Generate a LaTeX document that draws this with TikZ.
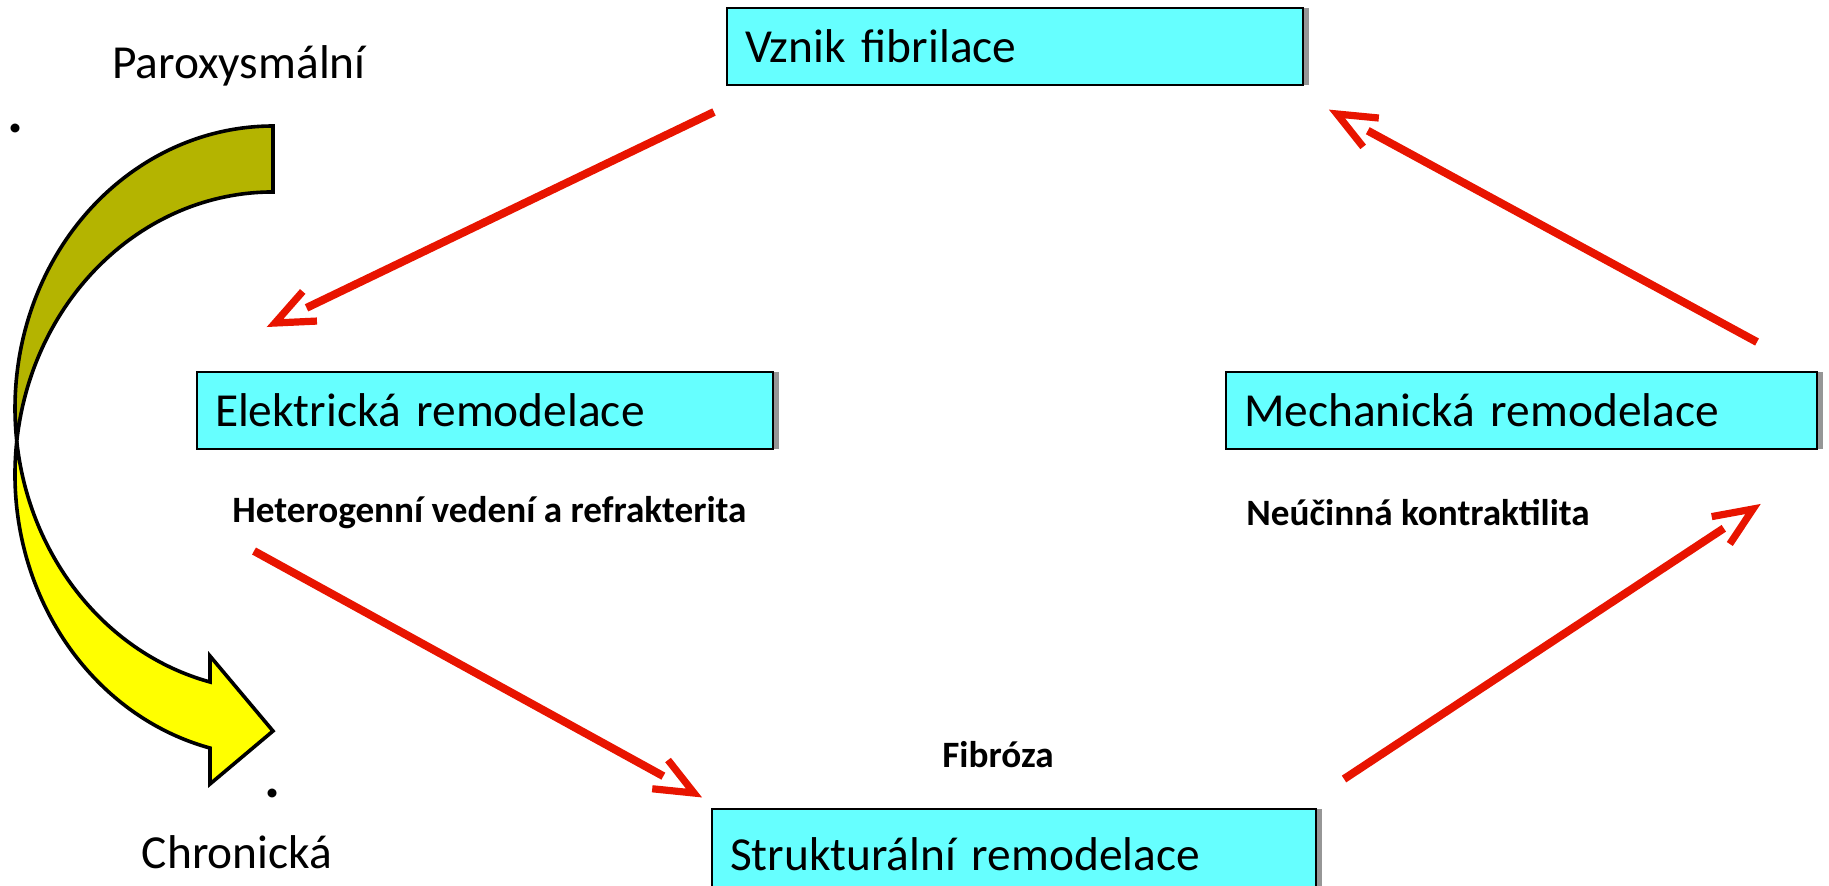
\documentclass[tikz,border=0pt]{standalone}
\usepackage{fontspec}
\setmainfont{Carlito}
\usetikzlibrary{calc,shadows}
\definecolor{boxcyan}{RGB}{102,255,255}
\definecolor{shadowgray}{RGB}{150,150,150}
\definecolor{arrred}{RGB}{232,20,0}
\definecolor{bandolive}{RGB}{180,180,0}
\definecolor{bandyellow}{RGB}{255,255,0}
\begin{document}
\begin{tikzpicture}
[x=0.5pt,y=-0.5pt,
 box/.style={draw,line width=1pt,fill=boxcyan,anchor=north west,
             minimum height=38.5pt,inner ysep=0pt,inner xsep=9pt,align=left,
             font=\fontsize{23.7}{28}\selectfont,
             drop shadow={shadow xshift=3pt,shadow yshift=0pt,
                          fill=shadowgray,opacity=1}},
 plain/.style={font=\fontsize{23.7}{28}\selectfont,inner sep=0pt},
 note/.style={font=\fontsize{18.6}{22}\selectfont\bfseries,inner sep=0pt},
 redline/.style={draw=arrred,line width=4pt},
 band/.style={draw=black,line width=1.8pt,line join=miter},
 ell/.style={x radius=129pt,y radius=141.15pt}]
\useasboundingbox (0,0) rectangle (1829,885);
% the four boxes
\node[box,text width=270pt] (vznik) at (726,7) {Vznik fibrilace};
\node[box,text width=270pt] (elektr) at (196,371) {Elektrická remodelace};
\node[box,text width=277.5pt] (mech) at (1225,371) {Mechanická remodelace};
\node[box,text width=284pt,minimum height=45pt] (strukt) at (711,808) {Strukturální remodelace};
% texts under the boxes
\node[note,anchor=west] (hetero) at (232,513) {Heterogenní vedení a refrakterita};
\node[note,anchor=west] (kontr) at (1246,513) {Neúčinná kontraktilita};
\node[note] (fibr) at (998,755) {Fibróza};
% curved arrow on the left
\node[plain] (parox) at (239,66) {Paroxysmální};
\node[plain] (chron) at (237,852) {Chronická};
\node[plain,font=\fontsize{30}{30}\selectfont\bfseries] (dotA) at (16,128) {.};
\node[plain,font=\fontsize{30}{30}\selectfont\bfseries] (dotB) at (273,793) {.};
\path[band,fill=bandolive] (273,126) arc[ell,start angle=90,end angle=186.71]
  arc[ell,start angle=173.29,end angle=90] -- cycle;
\path[band,fill=bandyellow] (16.77,441.3) arc[ell,start angle=173.29,end angle=255.87]
  -- (210,784) -- (273,731) -- (210,656) -- (210,682)
  arc[ell,start angle=255.87,end angle=186.71] -- cycle;
% red arrows round the cycle
\coordinate (vzOut) at (714,112);
\coordinate (elIn) at (275,323);
\coordinate (elOut) at (254,551);
\coordinate (stIn) at (694,793);
\coordinate (stOut) at (1344,779);
\coordinate (meIn) at (1753,509);
\coordinate (meOut) at (1757,342);
\coordinate (vzIn) at (1337,114);
\foreach \a/\b in {vzOut/elIn,elOut/stIn,stOut/meIn,meOut/vzIn}{
  \draw[redline] (\a) -- ($(\b)!17.5pt!(\a)$);
  \draw[redline,line width=3.6pt] ($(\b)!21pt!23:(\a)$) -- (\b) -- ($(\b)!21pt!-23:(\a)$);
}
\end{tikzpicture}
\end{document}
